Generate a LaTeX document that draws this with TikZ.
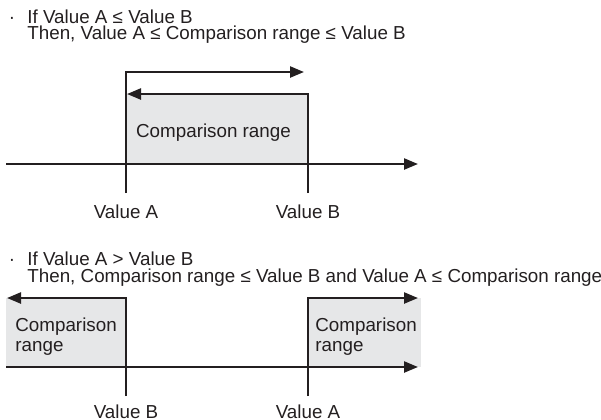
\documentclass[tikz,border=0pt]{standalone}
\usepackage{fontspec}
\setmainfont{Liberation Sans}
\usetikzlibrary{positioning,arrows.meta}
\definecolor{inkgray}{HTML}{231F20}
\definecolor{rangegray}{HTML}{E6E7E8}
\tikzset{txt/.style={inner sep=0pt,text=inkgray,font=\fontsize{9.4}{10}\selectfont},
  ln/.style={draw=inkgray,line width=1.2pt},
  arr/.style={ln,-{Triangle[length=7pt,width=5.5pt]}},
  rng/.style={fill=rangegray}}
\begin{document}
\begin{tikzpicture}[x=0.5pt,y=-0.5pt]
\useasboundingbox (0,0) rectangle (601,419);
\node[txt,anchor=base] (dot1) at (12,23) {·};
\node[txt,anchor=base west] (if1) at (27,23) {If Value A ≤ Value B};
\node[txt,anchor=base west] (then1) at (27,39.5) {Then, Value A ≤ Comparison range ≤ Value B};
\fill[rng] (126,94) rectangle (308,164);
\coordinate (ax0) at (6,164);\coordinate (ax1) at (418,164);
\coordinate (a0) at (126,193);\coordinate (a1) at (126,72);\coordinate (a2) at (304,72);
\coordinate (b0) at (308,193);\coordinate (b1) at (308,94);\coordinate (b2) at (127,94);
\draw[arr] (ax0)--(ax1);
\draw[arr] (a0)--(a1)--(a2);
\draw[arr] (b0)--(b1)--(b2);
\node[txt,anchor=base] (rng1) at (213.5,137) {Comparison range};
\node[txt,anchor=base] (valA1) at (126,218) {Value A};
\node[txt,anchor=base] (valB1) at (308,218) {Value B};
\node[txt,anchor=base] (dot2) at (12,265) {·};
\node[txt,anchor=base west] (if2) at (27,265) {If Value A > Value B};
\node[txt,anchor=base west] (then2) at (27,282) {Then, Comparison range ≤ Value B and Value A ≤ Comparison range};
\fill[rng] (6,298) rectangle (126,367);
\fill[rng] (308,298) rectangle (421,367);
\coordinate (bx0) at (6,367);\coordinate (bx1) at (418,367);
\coordinate (c0) at (126,396);\coordinate (c1) at (126,298);\coordinate (c2) at (7,298);
\coordinate (d0) at (308,396);\coordinate (d1) at (308,298);\coordinate (d2) at (418,298);
\draw[arr] (bx0)--(bx1);
\draw[arr] (c0)--(c1)--(c2);
\draw[arr] (d0)--(d1)--(d2);
\node[txt,anchor=west,align=left] (rngL) at (15,337) {Comparison\\range};
\node[txt,anchor=west,align=left] (rngR) at (315,337) {Comparison\\range};
\node[txt,anchor=base] (valB2) at (126,418) {Value B};
\node[txt,anchor=base] (valA2) at (308,418) {Value A};
\end{tikzpicture}
\end{document}
